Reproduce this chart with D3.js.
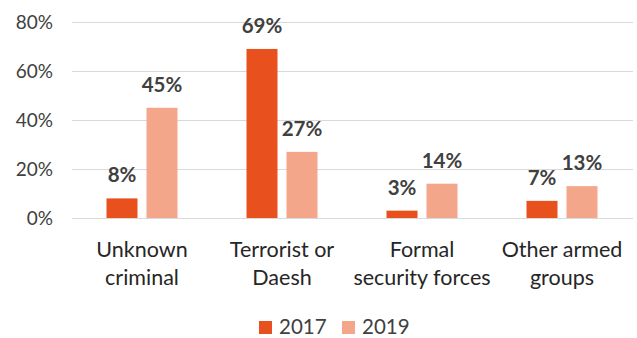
<!DOCTYPE html>
<html>
<head>
<meta charset="utf-8">
<script src="https://cdn.jsdelivr.net/npm/d3@7"></script>
<style>
  body { margin: 0; background: #fff; }
  svg { font-family: Lato, "Open Sans", sans-serif; }
</style>
</head>
<body>
<svg id="chart" width="637" height="338"></svg>
<script>
// chart data
const categories = [["Unknown", "criminal"], ["Terrorist or", "Daesh"], ["Formal", "security forces"], ["Other armed", "groups"]];
const years = ["2017", "2019"];
const values2017 = [8, 69, 3, 7];
const values2019 = [45, 27, 14, 13];
const yTicks = [0, 20, 40, 60, 80];

const colors = { "2017": "#E8511E", "2019": "#F4A68B" };

const svg = d3.select("#chart");
const margin = { left: 72, top: 22 };
const plotBottom = 218;

const x = d3.scaleBand()
  .domain(categories.map((c, i) => i))
  .range([margin.left, margin.left + 560]);

const xInner = d3.scaleBand()
  .domain(years)
  .range([0, 71])
  .paddingInner(9 / 40);

const y = d3.scaleLinear().domain([0, 80]).range([plotBottom, margin.top]);

const barX = d => x(d.i) + (x.bandwidth() - 71) / 2 + xInner(d.year);

// gridlines
svg.append("g")
  .selectAll("line")
  .data(yTicks)
  .join("line")
  .attr("x1", margin.left)
  .attr("x2", margin.left + 561)
  .attr("y1", d => Math.round(y(d)) + 0.5)
  .attr("y2", d => Math.round(y(d)) + 0.5)
  .attr("stroke", "#D9D9D9")
  .attr("stroke-width", 1.2);

// y tick labels
svg.append("g")
  .selectAll("text")
  .data(yTicks)
  .join("text")
  .attr("x", 53)
  .attr("y", d => y(d))
  .attr("dy", "0.35em")
  .attr("text-anchor", "end")
  .attr("font-size", 19)
  .attr("fill", "#404040")
  .text(d => d + "%");

// bars
const series = [
  { year: "2017", values: values2017 },
  { year: "2019", values: values2019 }
];

const groups = svg.append("g")
  .selectAll("g")
  .data(series)
  .join("g")
  .attr("fill", d => colors[d.year]);

groups.selectAll("rect")
  .data(d => d.values.map((v, i) => ({ year: d.year, value: v, i: i })))
  .join("rect")
  .attr("x", barX)
  .attr("width", xInner.bandwidth())
  .attr("y", d => y(d.value))
  .attr("height", d => y(0) - y(d.value));

// data labels
groups.selectAll("text")
  .data(d => d.values.map((v, i) => ({ year: d.year, value: v, i: i })))
  .join("text")
  .attr("x", d => barX(d) + xInner.bandwidth() / 2)
  .attr("y", d => y(d.value) - 16)
  .attr("text-anchor", "middle")
  .attr("font-size", 20.5)
  .attr("font-weight", "bold")
  .attr("fill", "#404040")
  .text(d => d.value + "%");

// category labels
const cat = svg.append("g")
  .selectAll("text")
  .data(categories)
  .join("text")
  .attr("x", (d, i) => x(i) + x.bandwidth() / 2)
  .attr("y", 257)
  .attr("text-anchor", "middle")
  .attr("font-size", 21.5)
  .attr("fill", "#262626");

cat.selectAll("tspan")
  .data(d => d)
  .join("tspan")
  .attr("x", function() { return d3.select(this.parentNode).attr("x"); })
  .attr("dy", (d, i) => i === 0 ? 0 : 28)
  .text(d => d);

// legend
const legendX = [259, 342];
const legend = svg.append("g")
  .selectAll("g")
  .data(years)
  .join("g")
  .attr("transform", (d, i) => `translate(${legendX[i]},321)`);

legend.append("rect")
  .attr("width", 13)
  .attr("height", 13)
  .attr("fill", d => colors[d]);

legend.append("text")
  .attr("x", 20)
  .attr("y", 13)
  .attr("font-size", 20.5)
  .attr("fill", "#404040")
  .text(d => d);
</script>
</body>
</html>
